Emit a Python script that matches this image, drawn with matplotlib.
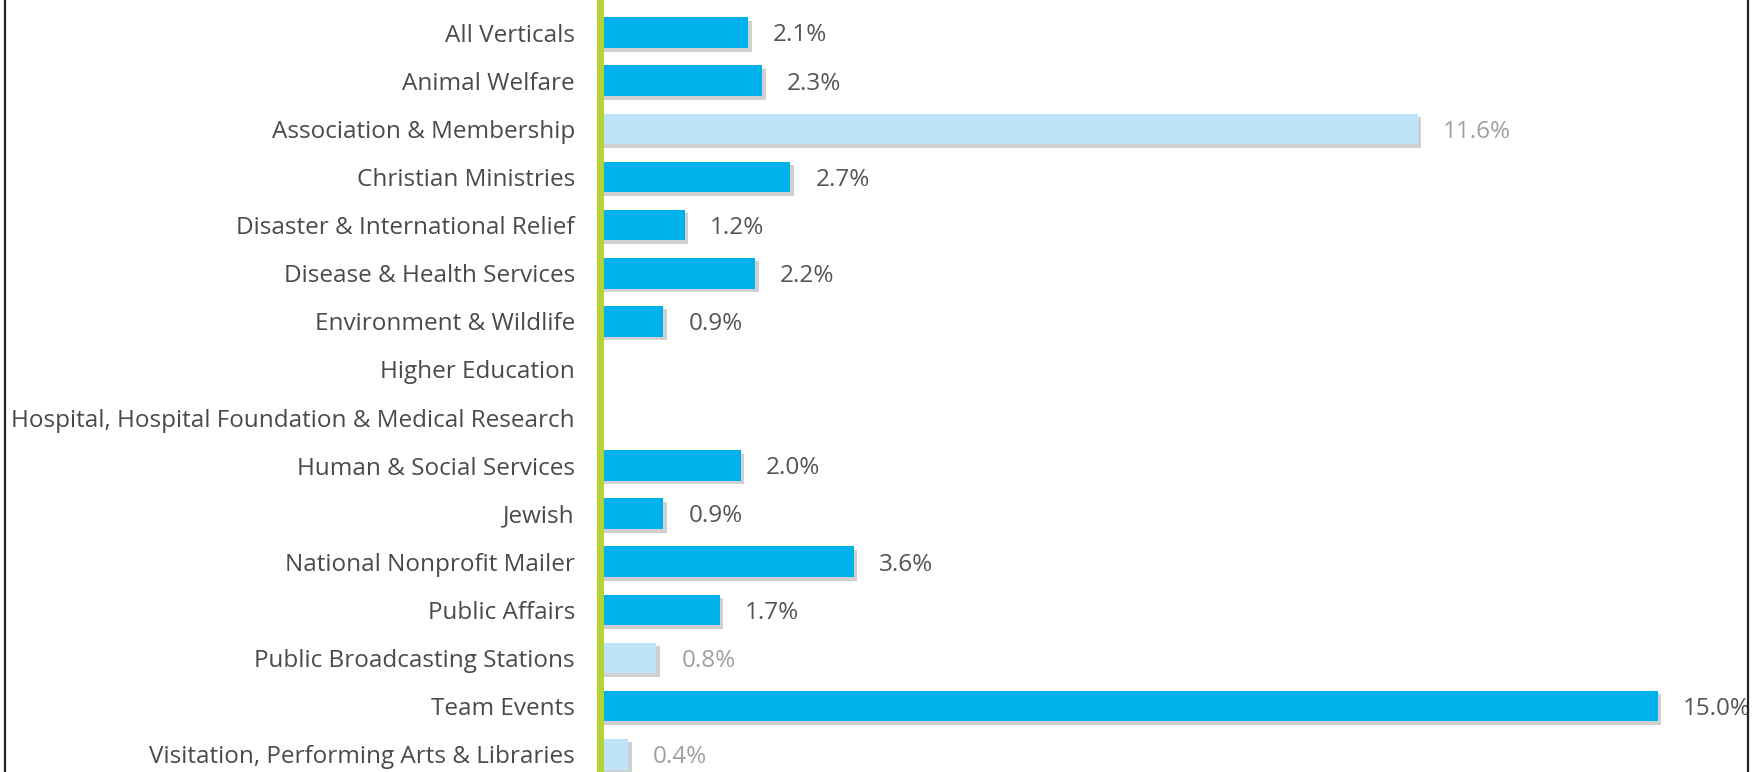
import numpy as np
import matplotlib.pyplot as plt
import matplotlib.patheffects as pe
from matplotlib.lines import Line2D

plt.rcParams['font.family'] = ['Open Sans', 'DejaVu Sans']

# Tasa por vertical (%), None = sin dato
categories = ['All Verticals', 'Animal Welfare', 'Association & Membership',
              'Christian Ministries', 'Disaster & International Relief',
              'Disease & Health Services', 'Environment & Wildlife',
              'Higher Education', 'Hospital, Hospital Foundation & Medical Research',
              'Human & Social Services', 'Jewish', 'National Nonprofit Mailer',
              'Public Affairs', 'Public Broadcasting Stations', 'Team Events',
              'Visitation, Performing Arts & Libraries']
values = [2.1, 2.3, 11.6, 2.7, 1.2, 2.2, 0.9, None, None,
          2.0, 0.9, 3.6, 1.7, 0.8, 15.0, 0.4]
# verticales con muestra reducida (barra clara)
small_sample = ['Association & Membership', 'Public Broadcasting Stations',
                'Visitation, Performing Arts & Libraries']

W, H = 1763, 772
fig = plt.figure(figsize=(W / 100, H / 100), dpi=100)
ax = fig.add_axes([600 / W, 0, 1 - 600 / W, 1])

y = np.arange(len(categories))
shadow = [pe.SimplePatchShadow(offset=(2.5, -2.5), shadow_rgbFace='#8a8a8a', alpha=0.4),
          pe.Normal()]

for i, (cat, v) in enumerate(zip(categories, values)):
    if v is None:
        continue
    light = cat in small_sample
    bar = ax.barh(i, v, height=0.64, color='#BDE4F7' if light else '#00B2EC',
                  edgecolor='none')
    bar[0].set_path_effects(shadow)
    ax.annotate(f'{v:.1f}%', (v, i), xytext=(18, -2), textcoords='offset points',
                ha='left', va='center', fontsize=17.5,
                color='#a0a0a0' if light else '#555555')

ax.set_xlim(0, 1163 / 70.5)
ax.set_ylim(15.37, -0.68)
ax.set_yticks(y)
ax.set_yticklabels(categories, fontsize=17.5, color='#4a4a4a')
ax.tick_params(axis='y', length=0, pad=18)
ax.set_xticks([])
for s in ['top', 'right', 'bottom']:
    ax.spines[s].set_visible(False)
ax.spines['left'].set_color('#B5D334')
ax.spines['left'].set_linewidth(5)

# marco lateral
fig.add_artist(Line2D([5 / W, 5 / W], [0, 1], color='#222222', lw=1.6))
fig.add_artist(Line2D([1748 / W, 1748 / W], [0, 1], color='#222222', lw=1.6))

fig.savefig('out.png', dpi=100)
